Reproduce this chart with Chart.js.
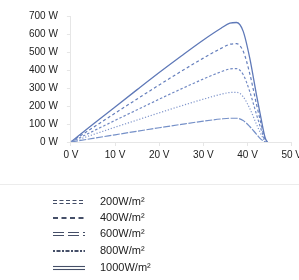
<!DOCTYPE html>
<html>
<head>
<meta charset="utf-8">
<script src="https://cdn.jsdelivr.net/npm/chart.js@4.4.1/dist/chart.umd.min.js"></script>
<style>
  html, body { margin: 0; padding: 0; background: #fff; overflow: hidden; }
  #wrap { width: 299px; height: 280px; overflow: hidden; position: relative; }
  canvas { display: block; }
</style>
</head>
<body>
<div id="wrap"><canvas id="c" width="305" height="280"></canvas></div>
<script>
// Voltage grid (V)
const voltages = [0, 5, 10, 15, 20, 25, 30, 34, 36, 37.5, 39, 40.5, 42, 43, 44, 44.5];
// Power (W) per irradiance level
const power200  = [0, 20, 40, 60, 79, 98, 116, 128, 132, 132, 119, 86, 44, 16, 0, null];
const power400  = [0, 41, 82, 122, 162, 201, 238, 265, 275, 276, 252, 186, 100, 45, 0, null];
const power600  = [0, 60, 120, 179, 238, 295, 350, 390, 406, 408, 375, 280, 155, 75, 0, null];
const power800  = [0, 80, 160, 239, 317, 393, 466, 520, 543, 546, 505, 380, 212, 108, 12, 0];
const power1000 = [0, 98, 195, 291, 386, 478, 567, 632, 660, 664, 616, 466, 265, 138, 22, 0];
const seriesLabels = ['200W/m²', '400W/m²', '600W/m²', '800W/m²', '1000W/m²'];
const yTicks = [0, 100, 200, 300, 400, 500, 600, 700];
const xTicks = [0, 10, 20, 30, 40, 50];

const allPower = [power200, power400, power600, power800, power1000];
const lineDashes = [[7, 1.5], [1.2, 1.8], [2.5, 2], [3, 2.5], []];
const lineColors = ['#7590c8', '#8096cc', '#7189c4', '#647ebc', '#5f79b8'];

const datasets = allPower.map((p, i) => ({
  label: seriesLabels[i],
  data: voltages.map((v, k) => ({ x: v, y: p[k] })),
  borderColor: lineColors[i],
  borderWidth: i === 4 ? 1.3 : 1.2,
  borderDash: lineDashes[i],
  pointRadius: 0,
  fill: false,
  cubicInterpolationMode: 'monotone',
  spanGaps: false
}));

// legend symbol styles (double/single, dash)
const legendSym = [
  { double: true, dash: [4, 2.5] },
  { double: false, dash: [5, 3.5] },
  { double: true, dash: [11, 4] },
  { double: false, dash: [2, 1.5, 4, 1.5] },
  { double: true, dash: [] }
];

const legendPlugin = {
  id: 'customLegend',
  afterDraw(chart) {
    const ctx = chart.ctx;
    ctx.save();
    ctx.strokeStyle = '#ececec';
    ctx.lineWidth = 1;
    ctx.beginPath();
    ctx.moveTo(0, 184.5);
    ctx.lineTo(305, 184.5);
    ctx.stroke();
    const rows = [202, 218, 234, 251, 268];
    chart.data.datasets.forEach((ds, i) => {
      const y = rows[i];
      const s = legendSym[i];
      ctx.strokeStyle = '#454f68';
      ctx.setLineDash(s.dash);
      if (s.double) {
        ctx.lineWidth = 1.1;
        [y - 1.5, y + 1.5].forEach(yy => {
          ctx.beginPath(); ctx.moveTo(53, yy); ctx.lineTo(85, yy); ctx.stroke();
        });
      } else {
        ctx.lineWidth = 1.8;
        ctx.beginPath(); ctx.moveTo(53, y); ctx.lineTo(85, y); ctx.stroke();
      }
      ctx.setLineDash([]);
      ctx.fillStyle = '#222';
      ctx.font = '11px "Liberation Sans", Arial, sans-serif';
      ctx.textBaseline = 'middle';
      ctx.textAlign = 'left';
      ctx.fillText(ds.label, 100, y);
    });
    ctx.restore();
  }
};

new Chart(document.getElementById('c'), {
  type: 'line',
  data: { datasets },
  plugins: [legendPlugin],
  options: {
    responsive: false,
    animation: false,
    layout: { padding: { top: 16, left: 20, right: 0, bottom: 116 } },
    plugins: { legend: { display: false }, tooltip: { enabled: false } },
    scales: {
      x: {
        type: 'linear',
        min: 0, max: 50,
        afterBuildTicks: (axis) => { axis.ticks = xTicks.map(v => ({ value: v })); },
        ticks: {
          callback: v => v + ' V',
          color: '#222',
          font: { family: '"Liberation Sans", Arial, sans-serif', size: 10 },
          padding: 3,
          maxRotation: 0
        },
        grid: { display: true, drawOnChartArea: false, tickLength: 4, color: '#e6e6e6' },
        border: { color: '#e6e6e6' }
      },
      y: {
        min: 0, max: 700,
        afterBuildTicks: (axis) => { axis.ticks = yTicks.map(v => ({ value: v })); },
        ticks: {
          callback: v => v + ' W',
          color: '#222',
          font: { family: '"Liberation Sans", Arial, sans-serif', size: 10 },
          padding: 9
        },
        grid: { display: true, drawOnChartArea: false, tickLength: 4, color: '#e6e6e6' },
        border: { color: '#e6e6e6' }
      }
    }
  }
});
</script>
</body>
</html>
